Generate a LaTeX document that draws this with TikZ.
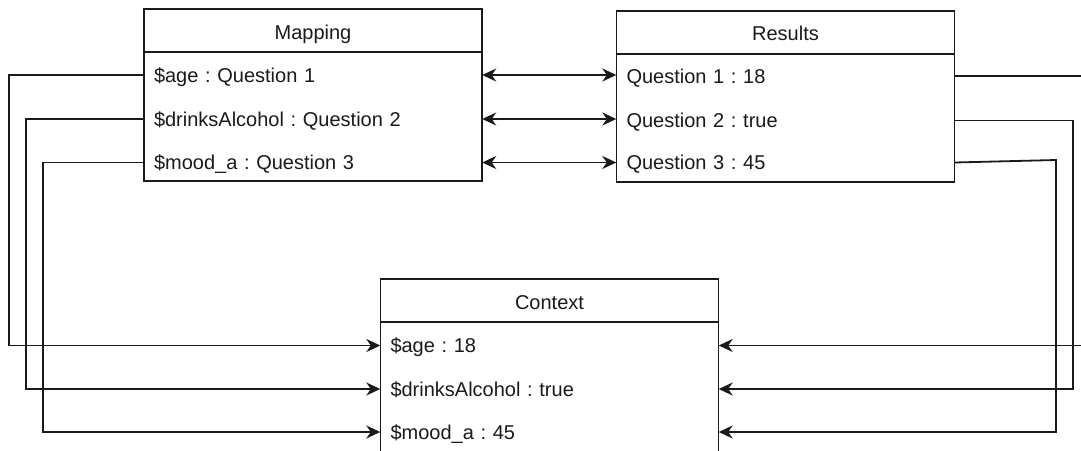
\documentclass[tikz,border=0pt]{standalone}
\usepackage{fontspec}
\setmainfont{Liberation Sans}
\usetikzlibrary{arrows.meta}
\definecolor{ink}{HTML}{1A1A1A}
\frenchspacing
\begin{document}
\begin{tikzpicture}[x=1pt,y=-1pt,
  font=\fontsize{20}{24}\selectfont,
  tblbox/.style={draw=ink, line width=1.8pt, fill=white, inner sep=0pt, minimum width=338pt},
  tbltitle/.style={text=ink, inner sep=0pt, anchor=base},
  tblrow/.style={text=ink, inner xsep=10pt, inner ysep=0pt, text height=14.3pt, text depth=0pt, align=left, text width=318pt},
  link/.style={draw=ink, line width=1.8pt},
  arr/.style={-{Stealth[length=14pt,width=13pt,inset=4.5pt]}},
  dblarr/.style={{Stealth[length=14pt,width=13pt,inset=4.5pt]}-{Stealth[length=14pt,width=13pt,inset=4.5pt]}}
]
\useasboundingbox (0,0) rectangle (1081,450);
\clip (0,0) rectangle (1081,450);

% Mapping
\node[tblbox, minimum height=172pt] (map) at (313,95) {};
\draw[link] (map.west |- 0,52) -- (map.east |- 0,52);
\node[tbltitle] (maptitle) at (313,39) {Mapping};
\node[tblrow] (m1) at (313,75) {\$age : Question 1};
\node[tblrow] (m2) at (313,119) {\$drinksAlcohol : Question 2};
\node[tblrow] (m3) at (313,162.5) {\$mood\_a : Question 3};

% Results
\node[tblbox, minimum height=171pt] (res) at (785.5,96.5) {};
\draw[link] (res.west |- 0,54) -- (res.east |- 0,54);
\node[tbltitle] (restitle) at (785.5,40) {Results};
\node[tblrow] (r1) at (785.5,76) {Question 1 : 18};
\node[tblrow] (r2) at (785.5,120.5) {Question 2 : true};
\node[tblrow] (r3) at (785.5,162.5) {Question 3 : 45};

% Context
\node[tblbox, minimum height=177pt] (ctx) at (549.5,367.8) {};
\draw[link] (ctx.west |- 0,322.3) -- (ctx.east |- 0,322.3);
\node[tbltitle] (ctxtitle) at (549.5,309.3) {Context};
\node[tblrow] (c1) at (549.5,345.5) {\$age : 18};
\node[tblrow] (c2) at (549.5,389) {\$drinksAlcohol : true};
\node[tblrow] (c3) at (549.5,432) {\$mood\_a : 45};

% Mapping <-> Results
\draw[link, dblarr] (m1.east) -- (m1.east -| r1.west);
\draw[link, dblarr] (m2.east) -- (m2.east -| r2.west);
\draw[link, dblarr] (m3.east) -- (m3.east -| r3.west);

% Mapping -> Context (left side)
\draw[link, arr] (m1.west) -- ++(-135,0) |- (c1.west);
\draw[link, arr] (m2.west) -- ++(-118,0) |- (c2.west);
\draw[link, arr] (m3.west) -- ++(-101,0) |- (c3.west);

% Results -> Context (right side)
\coordinate (k3) at (1056,160);
\draw[link, arr] (r1.east) -- ++(136,0) |- (c1.east);
\draw[link, arr] (r2.east) -- ++(118.4,0) |- (c2.east);
\draw[link, arr] (r3.east) -- (k3) |- (c3.east);
\end{tikzpicture}
\end{document}
